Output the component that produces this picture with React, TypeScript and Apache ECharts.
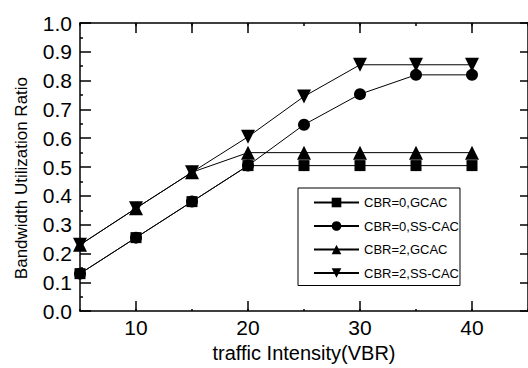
import React, { useEffect, useRef } from "react";
import * as echarts from "echarts";

const xValues = [5, 10, 15, 20, 25, 30, 35, 40];
const cbr0Gcac = [0.13, 0.255, 0.38, 0.505, 0.505, 0.505, 0.505, 0.505];
const cbr0Sscac = [0.13, 0.255, 0.38, 0.505, 0.647, 0.753, 0.82, 0.82];
const cbr2Gcac = [0.23, 0.357, 0.482, 0.55, 0.55, 0.55, 0.55, 0.55];
const cbr2Sscac = [0.23, 0.357, 0.482, 0.605, 0.745, 0.855, 0.855, 0.855];
const seriesNames = ["CBR=0,GCAC", "CBR=0,SS-CAC", "CBR=2,GCAC", "CBR=2,SS-CAC"];
const xLabelValues = [10, 20, 30, 40];
const bottomMajorTicks = [10, 20, 30, 40];
const topMajorTicks = [10, 15, 20, 30, 40];

const FONT = "'Liberation Sans', Arial, sans-serif";

export default function App() {
  const ref = useRef<HTMLDivElement>(null);

  useEffect(() => {
    if (!ref.current) return;
    const chart = echarts.init(ref.current, null, { renderer: "svg" });

    const seriesDefs = [
      { name: seriesNames[0], vals: cbr0Gcac, symbol: "rect", size: 11, rotate: 0 },
      { name: seriesNames[1], vals: cbr0Sscac, symbol: "circle", size: 12, rotate: 0 },
      { name: seriesNames[2], vals: cbr2Gcac, symbol: "triangle", size: 14, rotate: 0 },
      { name: seriesNames[3], vals: cbr2Sscac, symbol: "triangle", size: 14, rotate: 180 },
    ];

    const black = "#000";

    chart.setOption({
      animation: false,
      backgroundColor: "#fff",
      textStyle: { fontFamily: FONT },
      grid: { left: 80, top: 23, right: -2, bottom: 56, containLabel: false },
      legend: {
        orient: "vertical",
        left: 298,
        top: 188,
        itemWidth: 45,
        itemHeight: 12,
        itemGap: 10.5,
        padding: [8, 1, 6, 15],
        borderColor: black,
        borderWidth: 1,
        backgroundColor: "#fff",
        selectedMode: false,
        textStyle: { fontSize: 13, color: black, fontFamily: FONT },
        data: seriesNames,
      },
      xAxis: [
        {
          type: "value",
          position: "bottom",
          min: 5,
          max: 45,
          interval: 5,
          name: "traffic Intensity(VBR)",
          nameLocation: "middle",
          nameGap: 22,
          nameTextStyle: { fontSize: 20, color: black, fontFamily: FONT },
          axisLine: { show: true, lineStyle: { color: black, width: 1.5 } },
          axisTick: { show: true, inside: true, length: 2, lineStyle: { color: black, width: 1.5 } },
          axisLabel: {
            show: true,
            customValues: xLabelValues,
            fontSize: 21,
            color: black,
            margin: 6,
            fontFamily: FONT,
          },
          splitLine: { show: false },
        },
        {
          type: "value",
          position: "bottom",
          min: 5,
          max: 45,
          interval: 5,
          axisLine: { show: false },
          axisTick: {
            show: true,
            inside: true,
            length: 10,
            customValues: bottomMajorTicks,
            lineStyle: { color: black, width: 1.5 },
          },
          axisLabel: { show: false },
          splitLine: { show: false },
        },
        {
          type: "value",
          position: "top",
          min: 5,
          max: 45,
          interval: 5,
          axisLine: { show: true, lineStyle: { color: black, width: 1.5 } },
          axisTick: { show: true, inside: true, length: 3, lineStyle: { color: black, width: 1.5 } },
          axisLabel: { show: false },
          splitLine: { show: false },
        },
        {
          type: "value",
          position: "top",
          min: 5,
          max: 45,
          interval: 5,
          axisLine: { show: false },
          axisTick: {
            show: true,
            inside: true,
            length: 10,
            customValues: topMajorTicks,
            lineStyle: { color: black, width: 1.5 },
          },
          axisLabel: { show: false },
          splitLine: { show: false },
        },
      ],
      yAxis: [
        {
          type: "value",
          position: "left",
          min: 0,
          max: 1,
          interval: 0.1,
          name: "Bandwidth Utilization Ratio",
          nameLocation: "middle",
          nameGap: 50,
          nameTextStyle: { fontSize: 17, color: black, fontFamily: FONT, padding: [0, 22, 0, 0] },
          axisLine: { show: true, lineStyle: { color: black, width: 1.5 } },
          axisTick: { show: true, inside: true, length: 11, lineStyle: { color: black, width: 1.5 } },
          minorTick: { show: true, splitNumber: 2, length: 3, lineStyle: { color: black, width: 1.5 } },
          axisLabel: {
            fontSize: 21,
            color: black,
            margin: 8,
            fontFamily: FONT,
            formatter: (v: number) => v.toFixed(1),
          },
          splitLine: { show: false },
          minorSplitLine: { show: false },
        },
        {
          type: "value",
          position: "right",
          min: 0,
          max: 1,
          interval: 0.1,
          axisLine: { show: true, lineStyle: { color: black, width: 1.5 } },
          axisTick: { show: true, inside: true, length: 8, lineStyle: { color: black, width: 1.5 } },
          axisLabel: { show: false },
          splitLine: { show: false },
        },
      ],
      series: seriesDefs.map((s) => ({
        type: "line",
        name: s.name,
        xAxisIndex: 0,
        yAxisIndex: 0,
        data: xValues.map((x, i) => [x, s.vals[i]]),
        symbol: s.symbol,
        symbolSize: s.size,
        symbolRotate: s.rotate,
        showSymbol: true,
        clip: false,
        lineStyle: { color: black, width: 1 },
        itemStyle: { color: black },
        emphasis: { disabled: true },
      })),
    });

    return () => chart.dispose();
  }, []);

  return (
    <div
      ref={ref}
      style={{ position: "absolute", left: 0, top: 0, width: 528, height: 368 }}
    />
  );
}
